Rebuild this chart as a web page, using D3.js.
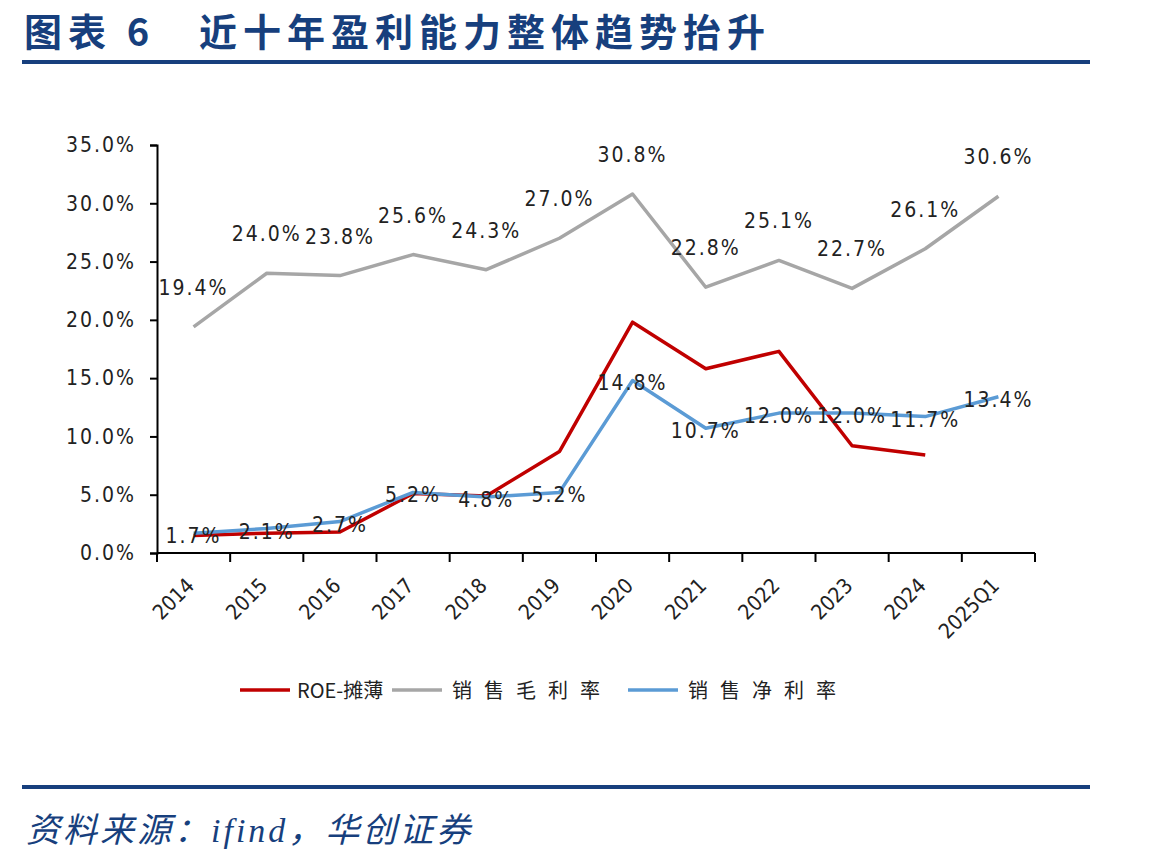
<!DOCTYPE html>
<html>
<head>
<meta charset="utf-8">
<script src="https://cdn.jsdelivr.net/npm/d3@7"></script>
<style>
  body { margin: 0; background: #fff; }
  svg { display: block; }
</style>
</head>
<body>
<div id="chart"></div>
<script>
// chart data
const years = ["2014", "2015", "2016", "2017", "2018", "2019", "2020", "2021", "2022", "2023", "2024", "2025Q1"];
const roe = [1.5, 1.7, 1.8, 5.1, 4.9, 8.7, 19.8, 15.8, 17.3, 9.2, 8.4, null];
const grossMargin = [19.4, 24.0, 23.8, 25.6, 24.3, 27.0, 30.8, 22.8, 25.1, 22.7, 26.1, 30.6];
const netMargin = [1.7, 2.1, 2.7, 5.2, 4.8, 5.2, 14.8, 10.7, 12.0, 12.0, 11.7, 13.4];
const yTicks = [0, 5, 10, 15, 20, 25, 30, 35];
const legendNames = ["ROE-摊薄", "销售毛利率", "销售净利率"];

const W = 1149, H = 863;
const navy = "#173f7d";
const labelFont = "'DejaVu Sans Condensed', 'Liberation Sans Narrow', 'Liberation Sans', sans-serif";

var svg = d3.select("#chart").append("svg")
    .attr("width", W)
    .attr("height", H);

// title + rules
svg.append("text")
    .attr("x", 24)
    .attr("y", 46)
    .attr("fill", navy)
    .style("font-family", "'Noto Sans CJK SC', sans-serif")
    .style("font-weight", "bold")
    .style("font-size", "38px")
    .style("letter-spacing", "6px")
    .text("图表 6　近十年盈利能力整体趋势抬升");

svg.append("line")
    .attr("x1", 22).attr("x2", 1090)
    .attr("y1", 62).attr("y2", 62)
    .attr("stroke", navy).attr("stroke-width", 4);

svg.append("line")
    .attr("x1", 22).attr("x2", 1090)
    .attr("y1", 787).attr("y2", 787)
    .attr("stroke", navy).attr("stroke-width", 4);

svg.append("text")
    .attr("x", 26)
    .attr("y", 842)
    .attr("fill", navy)
    .style("font-family", "'Liberation Serif', 'Noto Sans CJK SC', serif")
    .style("font-style", "italic")
    .style("font-size", "34px")
    .style("letter-spacing", "3px")
    .text("资料来源：ifind，华创证券");

// plot area
var plotL = 157, plotR = 1035, plotT = 145, plotB = 553;

var x = d3.scaleBand()
    .domain(years)
    .range([plotL, plotR]);

var y = d3.scaleLinear()
    .domain([0, 35])
    .range([plotB, plotT]);

var xc = function(d) { return x(d) + x.bandwidth() / 2; };

// y axis
var yAxis = svg.append("g")
    .attr("transform", "translate(" + plotL + ",0)")
    .call(d3.axisLeft(y).tickValues(yTicks).tickSize(7).tickPadding(14)
        .tickFormat(function(d) { return d.toFixed(1) + "%"; }));
yAxis.select(".domain").attr("stroke", "#000").attr("stroke-width", 2);
yAxis.selectAll(".tick line").attr("stroke", "#000").attr("stroke-width", 2);
yAxis.selectAll("text")
    .attr("fill", "#222")
    .style("font-family", labelFont)
    .style("font-size", "21px")
    .style("letter-spacing", "2px");

// x axis, ticks on band edges
var xAxis = svg.append("g")
    .attr("transform", "translate(0," + plotB + ")");
xAxis.append("line")
    .attr("x1", plotL).attr("x2", plotR)
    .attr("stroke", "#000").attr("stroke-width", 2);
xAxis.selectAll("line.tk")
    .data(years.concat(["end"]))
    .enter()
    .append("line")
    .attr("class", "tk")
    .attr("x1", function(d, i) { return i < years.length ? x(d) : plotR; })
    .attr("x2", function(d, i) { return i < years.length ? x(d) : plotR; })
    .attr("y1", 0).attr("y2", 9)
    .attr("stroke", "#000").attr("stroke-width", 2);
xAxis.selectAll("text")
    .data(years)
    .enter()
    .append("text")
    .attr("transform", function(d) { return "translate(" + (xc(d) + 2) + ",34) rotate(-45)"; })
    .attr("text-anchor", "end")
    .attr("fill", "#222")
    .style("font-family", labelFont)
    .style("font-size", "21px")
    .text(function(d) { return d; });

// lines
var series = [
    {name: legendNames[0], values: roe, color: "#c00000"},
    {name: legendNames[1], values: grossMargin, color: "#a6a6a6"},
    {name: legendNames[2], values: netMargin, color: "#5b9bd5"}
];

var line = d3.line()
    .defined(function(d) { return d.v != null; })
    .x(function(d) { return xc(d.year); })
    .y(function(d) { return y(d.v); });

series.forEach(function(s) {
    var pts = years.map(function(yr, i) { return {year: yr, v: s.values[i]}; });
    svg.append("path")
        .datum(pts)
        .attr("fill", "none")
        .attr("stroke", s.color)
        .attr("stroke-width", 3.5)
        .attr("stroke-linejoin", "round")
        .attr("d", line);
});

// data labels: gross margin above, net margin centred
svg.append("g")
    .selectAll("text")
    .data(grossMargin)
    .enter()
    .append("text")
    .attr("x", function(d, i) { return xc(years[i]); })
    .attr("y", function(d) { return y(d) - 32; })
    .attr("text-anchor", "middle")
    .attr("fill", "#222")
    .style("font-family", labelFont)
    .style("font-size", "21px")
    .style("letter-spacing", "2px")
    .text(function(d) { return d.toFixed(1) + "%"; });

svg.append("g")
    .selectAll("text")
    .data(netMargin)
    .enter()
    .append("text")
    .attr("x", function(d, i) { return xc(years[i]); })
    .attr("y", function(d) { return y(d) + 10; })
    .attr("text-anchor", "middle")
    .attr("fill", "#222")
    .style("font-family", labelFont)
    .style("font-size", "21px")
    .style("letter-spacing", "2px")
    .text(function(d) { return d.toFixed(1) + "%"; });

// legend
var legendX = [240, 392, 628];
var legend = svg.append("g")
    .selectAll("g")
    .data(series)
    .enter()
    .append("g")
    .attr("transform", function(d, i) { return "translate(" + legendX[i] + ",690)"; });
legend.append("line")
    .attr("x1", 0).attr("x2", 50)
    .attr("stroke", function(d) { return d.color; })
    .attr("stroke-width", 3.5);
legend.append("text")
    .attr("x", function(d, i) { return i == 0 ? 57 : 60; })
    .attr("y", 8)
    .attr("fill", "#222")
    .style("font-family", "'Noto Sans CJK SC', sans-serif")
    .style("font-size", "20px")
    .style("letter-spacing", function(d, i) { return i == 0 ? "0px" : "12px"; })
    .text(function(d) { return d.name; });
</script>
</body>
</html>
